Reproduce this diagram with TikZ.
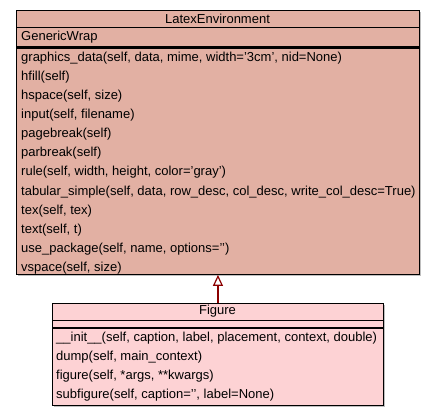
\documentclass[tikz,border=0pt]{standalone}
\usepackage{fontspec}
\setmainfont{Liberation Sans}
\usetikzlibrary{positioning, arrows.meta, shadows}
\definecolor{envfill}{RGB}{226,176,163}
\definecolor{figfill}{RGB}{253,210,212}
\definecolor{linkred}{RGB}{139,0,0}
\newcommand{\sq}{\char39\relax}
\tikzset{
  classbox/.style={rectangle, draw=black, line width=0.9pt, anchor=north west, inner sep=0pt,
    general shadow={fill=black!25, shadow xshift=1.5pt, shadow yshift=-1.5pt}},
  classname/.style={inner sep=0pt},
  member/.style={anchor=west, inner sep=0pt, minimum height=18.7pt},
  divider/.style={line width=0.9pt},
  thickdivider/.style={line width=2.2pt},
  inherit/.style={draw=linkred, line width=2.4pt, -{Triangle[open, length=11pt, width=10pt, line width=1.2pt]}}
}
\begin{document}
\begin{tikzpicture}[x=1pt, y=-1pt, every node/.style={font=\fontsize{13}{15}\selectfont}]
        \useasboundingbox (0,0) rectangle (435,416);
        % base class
        \node (env) [classbox, fill=envfill, minimum width=403pt, minimum height=264pt] at (16,10) {};
        \node (envname) [classname] at (217.5,18.5) {LatexEnvironment};
        \draw [divider] ([yshift=-17pt]env.north west) -- ([yshift=-17pt]env.north east);
        \node (wrap) [member] at (21,37) {GenericWrap};
        \draw [thickdivider] ([yshift=-37.5pt]env.north west) -- ([yshift=-37.5pt]env.north east);
        \node (graphics) [member] at (21,58) {graphics\_data(self, data, mime, width=\sq3cm\sq, nid=None)};
        \node (hfill) [member, below=0pt of graphics.south west, anchor=north west] {hfill(self)};
        \node (hspace) [member, below=0pt of hfill.south west, anchor=north west] {hspace(self, size)};
        \node (input) [member, below=0pt of hspace.south west, anchor=north west] {input(self, filename)};
        \node (pagebreak) [member, below=0pt of input.south west, anchor=north west] {pagebreak(self)};
        \node (parbreak) [member, below=0pt of pagebreak.south west, anchor=north west] {parbreak(self)};
        \node (rule) [member, below=0pt of parbreak.south west, anchor=north west] {rule(self, width, height, color=\sq gray\sq)};
        \node (tabular) [member, below=0pt of rule.south west, anchor=north west] {tabular\_simple(self, data, row\_desc, col\_desc, write\_col\_desc=True)};
        \node (tex) [member, below=0pt of tabular.south west, anchor=north west] {tex(self, tex)};
        \node (text) [member, below=0pt of tex.south west, anchor=north west] {text(self, t)};
        \node (usepkg) [member, below=0pt of text.south west, anchor=north west] {use\_package(self, name, options=\sq\sq)};
        \node (vspace) [member, below=0pt of usepkg.south west, anchor=north west] {vspace(self, size)};

        % subclass
        \node (figure) [classbox, fill=figfill, minimum width=331pt, minimum height=102pt] at (52,303) {};
        \node (figname) [classname] at (217.5,311.5) {Figure};
        \draw [divider] ([yshift=-17pt]figure.north west) -- ([yshift=-17pt]figure.north east);
        \draw [thickdivider] ([yshift=-25pt]figure.north west) -- ([yshift=-25pt]figure.north east);
        \node (init) [member] at (56,338) {\_\_init\_\_(self, caption, label, placement, context, double)};
        \node (dump) [member, below=0pt of init.south west, anchor=north west] {dump(self, main\_context)};
        \node (figmeth) [member, below=0pt of dump.south west, anchor=north west] {figure(self, *args, **kwargs)};
        \node (subfig) [member, below=0pt of figmeth.south west, anchor=north west] {subfigure(self, caption=\sq\sq, label=None)};

        \draw [inherit] (figure.north) -- (env.south);
    \end{tikzpicture}
\end{document}
